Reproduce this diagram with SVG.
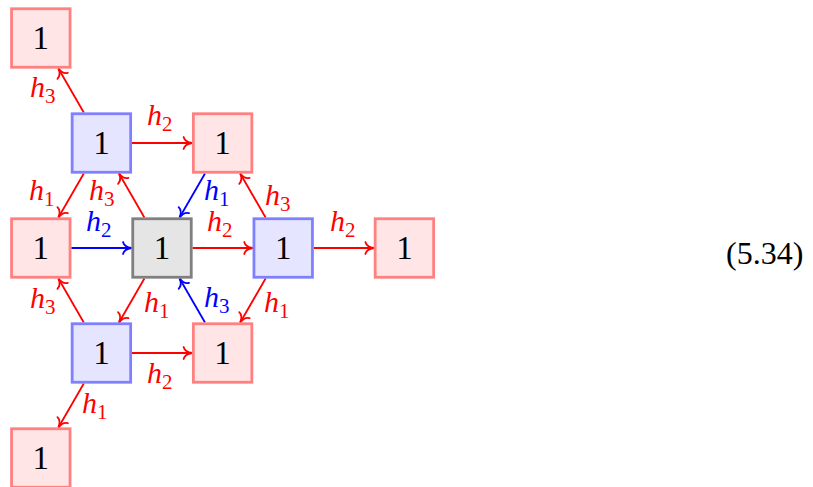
<svg xmlns="http://www.w3.org/2000/svg" width="813" height="487" viewBox="0 0 813 487">
<style>
.rn rect{fill:#ffe5e5;stroke:#ff8080;stroke-width:2.8}
.bn rect{fill:#e5e5ff;stroke:#8080ff;stroke-width:2.8}
.gn rect{fill:#e5e5e5;stroke:#808080;stroke-width:2.8}
.num{font-family:"Liberation Serif","DejaVu Serif",serif;font-size:33px;text-anchor:middle;fill:#000}
.lb{font-family:"Liberation Serif","DejaVu Serif",serif;font-style:italic;font-size:30px}
.sub{font-style:normal;font-size:21px}
.r{fill:#ff0000}
.b{fill:#0000ff}
.er{stroke:#ff0000;stroke-width:1.8;fill:none;marker-end:url(#ar)}
.eb{stroke:#0000ff;stroke-width:1.8;fill:none;marker-end:url(#ab)}
.eq{font-family:"Liberation Serif","DejaVu Serif",serif;font-size:32px;fill:#000}
</style>
<defs>
<marker id="ar" markerUnits="userSpaceOnUse" markerWidth="20" markerHeight="20" refX="0" refY="0" viewBox="-10 -10 20 20" orient="auto" overflow="visible">
<path d="M-8.5,-6 C-7.5,-2.2 -3.5,-0.5 0,0 C-3.5,0.5 -7.5,2.2 -8.5,6" fill="none" stroke="#ff0000" stroke-width="1.8" stroke-linecap="round"/>
</marker>
<marker id="ab" markerUnits="userSpaceOnUse" markerWidth="20" markerHeight="20" refX="0" refY="0" viewBox="-10 -10 20 20" orient="auto" overflow="visible">
<path d="M-8.5,-6 C-7.5,-2.2 -3.5,-0.5 0,0 C-3.5,0.5 -7.5,2.2 -8.5,6" fill="none" stroke="#0000ff" stroke-width="1.8" stroke-linecap="round"/>
</marker>
</defs>

<g id="connectors">
<line class="er" x1="83.8" y1="112.5" x2="58.4" y2="68.5"/>
<line class="er" x1="131.9" y1="143" x2="192.1" y2="143"/>
<line class="er" x1="83.8" y1="173.5" x2="58.4" y2="217.5"/>
<line class="er" x1="144.4" y1="217.5" x2="119" y2="173.5"/>
<line class="er" x1="265.6" y1="217.5" x2="240.2" y2="173.5"/>
<line class="er" x1="192.5" y1="248" x2="252.7" y2="248"/>
<line class="er" x1="313.7" y1="248" x2="373.9" y2="248"/>
<line class="er" x1="83.8" y1="322.5" x2="58.4" y2="278.5"/>
<line class="er" x1="144.4" y1="278.5" x2="119" y2="322.5"/>
<line class="er" x1="265.6" y1="278.5" x2="240.2" y2="322.5"/>
<line class="er" x1="131.9" y1="353" x2="192.1" y2="353"/>
<line class="er" x1="83.8" y1="383.5" x2="58.4" y2="427.5"/>
<line class="eb" x1="205" y1="173.5" x2="179.6" y2="217.5"/>
<line class="eb" x1="71.3" y1="248" x2="131.5" y2="248"/>
<line class="eb" x1="205" y1="322.5" x2="179.6" y2="278.5"/>

<text class="lb r" x="30" y="97">h<tspan class="sub" dy="6">3</tspan></text>
<text class="lb r" x="147" y="125">h<tspan class="sub" dy="6">2</tspan></text>
<text class="lb r" x="29" y="200">h<tspan class="sub" dy="6">1</tspan></text>
<text class="lb r" x="89" y="200">h<tspan class="sub" dy="6">3</tspan></text>
<text class="lb b" x="204" y="200">h<tspan class="sub" dy="6">1</tspan></text>
<text class="lb r" x="265" y="205">h<tspan class="sub" dy="6">3</tspan></text>
<text class="lb b" x="86" y="231">h<tspan class="sub" dy="6">2</tspan></text>
<text class="lb r" x="207" y="231">h<tspan class="sub" dy="6">2</tspan></text>
<text class="lb r" x="330" y="231">h<tspan class="sub" dy="6">2</tspan></text>
<text class="lb r" x="30" y="308">h<tspan class="sub" dy="6">3</tspan></text>
<text class="lb r" x="144" y="312">h<tspan class="sub" dy="6">1</tspan></text>
<text class="lb b" x="204" y="307">h<tspan class="sub" dy="6">3</tspan></text>
<text class="lb r" x="264" y="312">h<tspan class="sub" dy="6">1</tspan></text>
<text class="lb r" x="147" y="383">h<tspan class="sub" dy="6">2</tspan></text>
<text class="lb r" x="82" y="413">h<tspan class="sub" dy="6">1</tspan></text>
</g>

<g id="n_top_left" class="rn"><rect x="11.55" y="8.75" width="58.5" height="58.5"/><text class="num" x="40.8" y="49">1</text></g>
<g id="n_blue_top" class="bn"><rect x="72.15" y="113.75" width="58.5" height="58.5"/><text class="num" x="101.4" y="154">1</text></g>
<g id="n_red_top_right" class="rn"><rect x="193.35" y="113.75" width="58.5" height="58.5"/><text class="num" x="222.6" y="154">1</text></g>
<g id="n_red_left" class="rn"><rect x="11.55" y="218.75" width="58.5" height="58.5"/><text class="num" x="40.8" y="259">1</text></g>
<g id="n_center" class="gn"><rect x="132.75" y="218.75" width="58.5" height="58.5"/><text class="num" x="162" y="259">1</text></g>
<g id="n_blue_right" class="bn"><rect x="253.95" y="218.75" width="58.5" height="58.5"/><text class="num" x="283.2" y="259">1</text></g>
<g id="n_red_far_right" class="rn"><rect x="375.15" y="218.75" width="58.5" height="58.5"/><text class="num" x="404.4" y="259">1</text></g>
<g id="n_blue_bottom" class="bn"><rect x="72.15" y="323.75" width="58.5" height="58.5"/><text class="num" x="101.4" y="364">1</text></g>
<g id="n_red_bottom_right" class="rn"><rect x="193.35" y="323.75" width="58.5" height="58.5"/><text class="num" x="222.6" y="364">1</text></g>
<g id="n_bottom_left" class="rn"><rect x="11.55" y="428.75" width="58.5" height="58.5"/><text class="num" x="40.8" y="469">1</text></g>

<text class="eq" x="726" y="264">(5.34)</text>
</svg>
